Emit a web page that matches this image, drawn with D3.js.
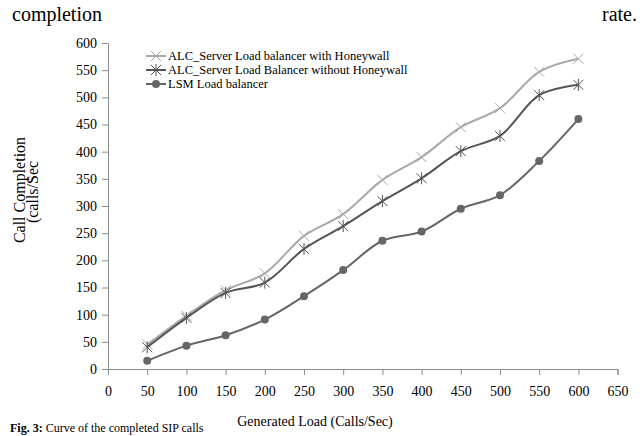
<!DOCTYPE html>
<html>
<head>
<meta charset="utf-8">
<script src="https://cdn.jsdelivr.net/npm/d3@7"></script>
<style>
  body { margin: 0; background: #fff; }
  svg { display: block; }
  svg text { font-family: "Liberation Serif", "Times New Roman", serif; }
</style>
</head>
<body>
<div id="chart"></div>
<script>
var svgWidth = 642;
var svgHeight = 436;

// data
var loads = [50, 100, 150, 200, 250, 300, 350, 400, 450, 500, 550, 600];
var withHoneywall = [45, 98, 145, 176, 245, 285, 348, 390, 445, 480, 547, 571];
var withoutHoneywall = [40, 94, 140, 159, 221, 263, 309, 351, 401, 429, 504, 523];
var lsmBalancer = [15, 43, 62, 91, 134, 182, 236, 253, 295, 320, 383, 460];
var seriesNames = ["ALC_Server Load balancer with Honeywall",
  "ALC_Server Load Balancer without Honeywall",
  "LSM Load balancer"];
var xTicks = d3.range(0, 651, 50);
var yTicks = d3.range(0, 601, 50);

var margin = { top: 43, left: 108 };
var width = 617.6 - margin.left;
var height = 369 - margin.top;

var svg = d3.select("#chart").append("svg")
  .attr("width", svgWidth)
  .attr("height", svgHeight);

// running text around the figure
svg.append("text").attr("x", 12).attr("y", 21)
  .attr("font-size", "20px").text("completion");
svg.append("text").attr("x", 637).attr("y", 21)
  .attr("text-anchor", "end").attr("font-size", "20px").text("rate.");
svg.append("text").attr("x", 10).attr("y", 432)
  .attr("font-size", "12px").html("<tspan font-weight='bold'>Fig. 3:</tspan> Curve of the completed SIP calls");

var chartGroup = svg.append("g")
  .attr("transform", `translate(${margin.left}, ${margin.top})`);

var x = d3.scaleLinear().domain([0, 650]).range([0, width]);
var y = d3.scaleLinear().domain([0, 600]).range([height, 0]);

// axes
var xAxis = chartGroup.append("g")
  .attr("transform", `translate(0, ${height})`)
  .call(d3.axisBottom(x).tickValues(xTicks).tickSize(6).tickPadding(11));
var yAxis = chartGroup.append("g")
  .call(d3.axisLeft(y).tickValues(yTicks).tickSize(6).tickPadding(5));

[xAxis, yAxis].forEach(function(ax) {
  ax.attr("font-family", null);
  ax.select(".domain").attr("stroke", "#8c8c8c");
  ax.selectAll(".tick line").attr("stroke", "#8c8c8c");
  ax.selectAll("text").attr("fill", "#000")
    .style("font-family", "'Liberation Serif', serif").style("font-size", "14px");
});

// axis titles
svg.append("text").attr("x", 315).attr("y", 426)
  .attr("text-anchor", "middle").attr("font-size", "14px")
  .text("Generated Load (Calls/Sec)");
svg.append("text")
  .attr("transform", "translate(25, 190) rotate(-90)")
  .attr("text-anchor", "middle").attr("font-size", "16px")
  .text("Call Completion");
svg.append("text")
  .attr("transform", "translate(38, 192) rotate(-90)")
  .attr("text-anchor", "middle").attr("font-size", "16px")
  .text("(calls/Sec");

var series = [
  { name: seriesNames[0], values: withHoneywall, color: "#a9a9a9", marker: "x" },
  { name: seriesNames[1], values: withoutHoneywall, color: "#555555", marker: "star" },
  { name: seriesNames[2], values: lsmBalancer, color: "#666666", marker: "dot" }
];

var line = d3.line()
  .x(function(d, i) { return x(loads[i]); })
  .y(function(d) { return y(d); })
  .curve(d3.curveCatmullRom.alpha(0.5));

function drawMarker(g, type, cx, cy, color) {
  var s = 5;
  if (type === "dot") {
    g.append("circle").attr("cx", cx).attr("cy", cy).attr("r", 4).attr("fill", color);
    return;
  }
  var path = `M${cx - s},${cy - s}L${cx + s},${cy + s}M${cx - s},${cy + s}L${cx + s},${cy - s}`;
  if (type === "star") path += `M${cx},${cy - s - 1}L${cx},${cy + s + 1}`;
  g.append("path").attr("d", path).attr("stroke", color).attr("stroke-width", 1).attr("fill", "none");
}

series.forEach(function(s) {
  chartGroup.append("path")
    .datum(s.values)
    .attr("fill", "none")
    .attr("stroke", s.color)
    .attr("stroke-width", 2)
    .attr("d", line);
  var mg = chartGroup.append("g");
  s.values.forEach(function(v, i) {
    drawMarker(mg, s.marker, x(loads[i]), y(v), s.color);
  });
});

// legend
var legend = svg.append("g");
series.forEach(function(s, i) {
  var ly = 56 + i * 14;
  legend.append("line").attr("x1", 146).attr("x2", 166)
    .attr("y1", ly).attr("y2", ly)
    .attr("stroke", s.color).attr("stroke-width", 2);
  drawMarker(legend, s.marker, 156, ly, s.color);
  legend.append("text").attr("x", 168).attr("y", ly + 4)
    .attr("font-size", "12.5px").text(s.name);
});
</script>
</body>
</html>
